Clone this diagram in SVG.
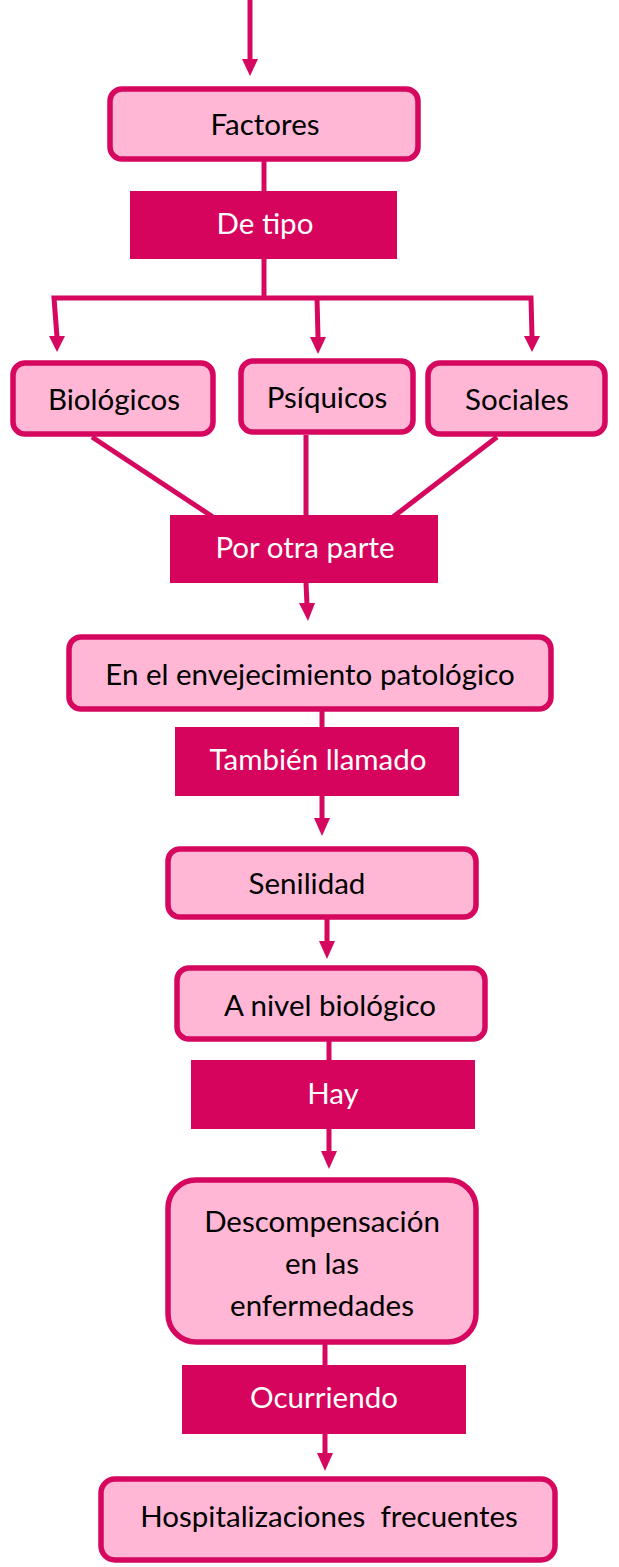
<svg xmlns="http://www.w3.org/2000/svg" width="619" height="1567" viewBox="0 0 619 1567">
<defs>
<style>
.box{fill:#FFB7D5;stroke:#D6075F;stroke-width:5.5}
.lab{fill:#D6045C}
.t{font-family:Lato,"Open Sans",sans-serif;font-size:29.5px;fill:#000;text-anchor:middle}
.w{font-family:Lato,"Open Sans",sans-serif;font-size:29.5px;fill:#fff;text-anchor:middle}
.c{stroke:#D6075F;stroke-width:5;fill:none}
.h{fill:#D6075F}
</style>
</defs>
<g id="connectors">
<line class="c" x1="250" y1="0" x2="250" y2="60"/>
<polygon class="h" points="242,59 258,59 250,76"/>
<line class="c" x1="264" y1="160" x2="264" y2="191"/>
<polyline class="c" points="264,259 264,298"/>
<polyline class="c" points="57,337 54,298 531,298 532,337"/>
<line class="c" x1="317" y1="298" x2="318" y2="337"/>
<polygon class="h" points="49,336 65,336 57,352"/>
<polygon class="h" points="310,337 326,337 318,354"/>
<polygon class="h" points="524,336 540,336 532,352"/>
<line class="c" x1="92" y1="437" x2="213" y2="517"/>
<line class="c" x1="306" y1="435" x2="306" y2="517"/>
<line class="c" x1="497" y1="437" x2="393" y2="517"/>
<line class="c" x1="306" y1="583" x2="307" y2="605"/>
<polygon class="h" points="299,603 315,603 308,621"/>
<line class="c" x1="322" y1="710" x2="322" y2="727"/>
<line class="c" x1="322" y1="796" x2="322" y2="820"/>
<polygon class="h" points="314,818 330,818 322,836"/>
<line class="c" x1="327" y1="918" x2="327" y2="943"/>
<polygon class="h" points="319,941 335,941 327,959"/>
<line class="c" x1="329" y1="1040" x2="329" y2="1060"/>
<line class="c" x1="329" y1="1129" x2="329" y2="1153"/>
<polygon class="h" points="321,1151 337,1151 329,1169"/>
<line class="c" x1="325" y1="1343" x2="325" y2="1365"/>
<line class="c" x1="325" y1="1434" x2="325" y2="1455"/>
<polygon class="h" points="317,1453 333,1453 325,1471"/>
</g>
<g id="factores"><rect class="box" x="110" y="89" width="308" height="70" rx="12"/><text class="t" x="265" y="135">Factores</text></g>
<g id="detipo"><rect class="lab" x="130" y="191" width="267" height="68"/><text class="w" x="265" y="234">De tipo</text></g>
<g id="biologicos"><rect class="box" x="13" y="363" width="200" height="71" rx="12"/><text class="t" x="114" y="410">Biológicos</text></g>
<g id="psiquicos"><rect class="box" x="241" y="361" width="172" height="71" rx="12"/><text class="t" x="327" y="408">Psíquicos</text></g>
<g id="sociales"><rect class="box" x="428" y="363" width="177" height="71" rx="12"/><text class="t" x="517" y="410">Sociales</text></g>
<g id="porotraparte"><rect class="lab" x="170" y="515" width="268" height="68"/><text class="w" x="305" y="558">Por otra parte</text></g>
<g id="envejecimiento"><rect class="box" x="69" y="637" width="482" height="72" rx="12"/><text class="t" x="310" y="685">En el envejecimiento patológico</text></g>
<g id="tambien"><rect class="lab" x="175" y="727" width="284" height="69"/><text class="w" x="318" y="770">También llamado</text></g>
<g id="senilidad"><rect class="box" x="168" y="849" width="308" height="68" rx="12"/><text class="t" x="307" y="894">Senilidad</text></g>
<g id="nivel"><rect class="box" x="177" y="968" width="308" height="71" rx="12"/><text class="t" x="330" y="1016">A nivel biológico</text></g>
<g id="hay"><rect class="lab" x="191" y="1060" width="284" height="69"/><text class="w" x="333" y="1104">Hay</text></g>
<g id="descompensacion"><rect class="box" x="168" y="1180" width="308" height="162" rx="28"/><text class="t" x="322" y="1232">Descompensación</text><text class="t" x="322" y="1274">en las</text><text class="t" x="322" y="1316">enfermedades</text></g>
<g id="ocurriendo"><rect class="lab" x="182" y="1365" width="284" height="69"/><text class="w" x="324" y="1408">Ocurriendo</text></g>
<g id="hospitalizaciones"><rect class="box" x="101" y="1479" width="454" height="81" rx="14"/><text class="t" x="329" y="1527" xml:space="preserve">Hospitalizaciones  frecuentes</text></g>
</svg>
